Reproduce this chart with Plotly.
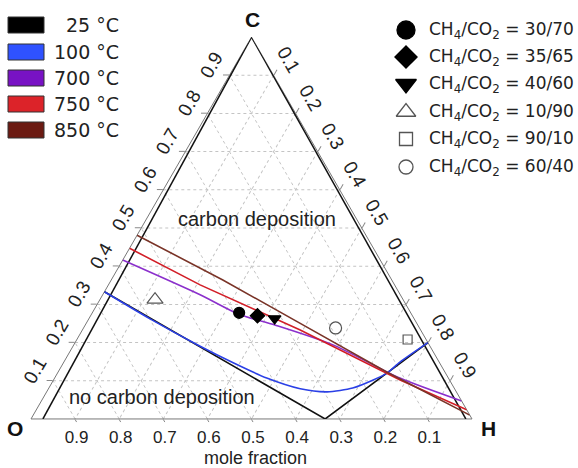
import plotly.graph_objects as go

W, H = 578, 468

# ---- carbon-deposition boundary lines (mole fractions of C and H; O is the remainder)
TEMPS = ["25 °C", "100 °C", "700 °C", "750 °C", "850 °C"]
LINE_COLORS = ["#111111", "#2b40e6", "#8b30cc", "#d21f28", "#7a3428"]
BOX_COLORS = ["#000000", "#2f52ff", "#7812c4", "#dc2329", "#6b1a12"]
LINE_SHAPES = ["linear", "spline", "spline", "linear", "linear"]

c_25 = [0.333, 0.0, 0.2]
h_25 = [0.0, 0.667, 0.8]

c_100 = [0.333, 0.262, 0.191, 0.147, 0.107, 0.079, 0.071, 0.081, 0.102, 0.120, 0.149, 0.2]
h_100 = [0.0, 0.139, 0.287, 0.385, 0.481, 0.571, 0.636, 0.689, 0.725, 0.747, 0.762, 0.8]

c_700 = [0.416, 0.325, 0.275, 0.246, 0.194, 0.107, 0.047]
h_700 = [0.0, 0.221, 0.332, 0.430, 0.588, 0.783, 0.953]

c_750 = [0.447, 0.351, 0.233, 0.102, 0.024]
h_750 = [0.0, 0.208, 0.494, 0.786, 0.976]

c_850 = [0.481, 0.364, 0.251, 0.123, 0.010]
h_850 = [0.0, 0.253, 0.484, 0.745, 0.990]

BOUNDARIES = [(c_25, h_25), (c_100, h_100), (c_700, h_700), (c_750, h_750), (c_850, h_850)]

# ---- feed compositions (C, O, H mole fractions)
FEEDS = ["CH<sub>4</sub>/CO<sub>2</sub> = 30/70", "CH<sub>4</sub>/CO<sub>2</sub> = 35/65",
         "CH<sub>4</sub>/CO<sub>2</sub> = 40/60", "CH<sub>4</sub>/CO<sub>2</sub> = 10/90",
         "CH<sub>4</sub>/CO<sub>2</sub> = 90/10", "CH<sub>4</sub>/CO<sub>2</sub> = 60/40"]
feed_c = [0.278, 0.270, 0.263, 0.3125, 0.208, 0.238]
feed_o = [0.389, 0.351, 0.316, 0.5625, 0.042, 0.190]
feed_h = [0.333, 0.378, 0.421, 0.125, 0.750, 0.571]
FEED_SYMBOLS = ["circle", "diamond", "triangle-down", "triangle-up-open", "square-open", "circle-open"]
FEED_SIZES = [11, 11, 11, 14, 9, 12]
LEGEND_SIZES = [18, 17, 18, 17, 13, 14]
FEED_COLORS = ["#000000", "#000000", "#000000", "#555555", "#555555", "#555555"]

TICKS = [0.1, 0.2, 0.3, 0.4, 0.5, 0.6, 0.7, 0.8, 0.9]
TICK_TEXT = ["0.1", "0.2", "0.3", "0.4", "0.5", "0.6", "0.7", "0.8", "0.9"]

FONT = "Liberation Sans, Arial, sans-serif"
LFONT = "DejaVu Sans, Verdana, sans-serif"

fig = go.Figure()

# inner frame lines running into the C vertex
fig.add_trace(go.Scatterternary(a=[0, 1], b=[0.973, 0], c=[0.027, 0], mode="lines",
                                line=dict(color="#111111", width=1.5), hoverinfo="skip"))
fig.add_trace(go.Scatterternary(a=[1, 0], b=[0, 0.014], c=[0, 0.986], mode="lines",
                                line=dict(color="#111111", width=1.5), hoverinfo="skip"))

for (cs, hs), col, name, shp in zip(BOUNDARIES, LINE_COLORS, TEMPS, LINE_SHAPES):
    os_ = [round(1 - c - h, 4) for c, h in zip(cs, hs)]
    line = dict(color=col, width=1.6, shape=shp)
    if shp == "spline":
        line["smoothing"] = 0.7
    fig.add_trace(go.Scatterternary(a=cs, b=os_, c=hs, mode="lines", name=name, line=line))

for i in range(len(FEEDS)):
    fig.add_trace(go.Scatterternary(a=[feed_c[i]], b=[feed_o[i]], c=[feed_h[i]], mode="markers",
                                    name=FEEDS[i],
                                    marker=dict(symbol=FEED_SYMBOLS[i], size=FEED_SIZES[i],
                                                color=FEED_COLORS[i],
                                                line=dict(color=FEED_COLORS[i], width=1.2))))

# legend glyphs on a hidden pixel-space axis
LEG_X = 406
LEG_Y = [30, 57, 84, 112, 139, 167]
for i in range(len(FEEDS)):
    fig.add_trace(go.Scatter(x=[LEG_X], y=[LEG_Y[i]], mode="markers", xaxis="x", yaxis="y",
                             marker=dict(symbol=FEED_SYMBOLS[i], size=LEGEND_SIZES[i],
                                         color=FEED_COLORS[i],
                                         line=dict(color=FEED_COLORS[i], width=1.3)),
                             hoverinfo="skip"))

shapes = []
annotations = []
BOX_Y = [25, 52, 78, 104, 130]
for i, t in enumerate(TEMPS):
    shapes.append(dict(type="rect", xref="x", yref="y", x0=8, x1=44, y0=BOX_Y[i] - 8, y1=BOX_Y[i] + 8,
                       fillcolor=BOX_COLORS[i], line=dict(color="#333333", width=1)))
    annotations.append(dict(xref="x", yref="y", x=121, y=BOX_Y[i], text=t, showarrow=False,
                            xanchor="right", yanchor="middle",
                            font=dict(family=LFONT, size=19, color="#222222")))
for i, f in enumerate(FEEDS):
    annotations.append(dict(xref="x", yref="y", x=427, y=LEG_Y[i], text=f, showarrow=False,
                            xanchor="left", yanchor="middle",
                            font=dict(family=LFONT, size=17, color="#222222")))

for txt, x, y in [("C", 252, 19), ("O", 15, 428), ("H", 488, 428)]:
    annotations.append(dict(xref="x", yref="y", x=x, y=y, text="<b>%s</b>" % txt, showarrow=False,
                            xanchor="center", yanchor="middle",
                            font=dict(family=FONT, size=21, color="#111111")))
annotations.append(dict(xref="x", yref="y", x=176, y=219, text="carbon deposition", showarrow=False,
                        xanchor="left", yanchor="middle", font=dict(family=FONT, size=20, color="#222222")))
annotations.append(dict(xref="x", yref="y", x=67, y=397, text="no carbon deposition", showarrow=False,
                        xanchor="left", yanchor="middle", font=dict(family=FONT, size=20, color="#222222")))
annotations.append(dict(xref="x", yref="y", x=255, y=458, text="mole fraction", showarrow=False,
                        xanchor="center", yanchor="middle", font=dict(family=FONT, size=18, color="#222222")))

axis_common = dict(tickvals=TICKS, ticktext=TICK_TEXT, ticks="outside", ticklen=6, tickwidth=1,
                   tickcolor="#888888", showline=True, linecolor="#777777", linewidth=1,
                   showgrid=True, gridcolor="#c4c4c4", gridwidth=1, griddash="dot",
                   layer="below traces", tickfont=dict(family=FONT, size=19, color="#222222"),
                   title=dict(text=""))

fig.update_layout(
    width=W, height=H, margin=dict(l=0, r=0, t=0, b=0),
    paper_bgcolor="white", plot_bgcolor="rgba(0,0,0,0)", showlegend=False,
    ternary=dict(
        sum=1, bgcolor="white",
        domain=dict(x=[31 / W, 472 / W], y=[49 / H, 431 / H]),
        aaxis=dict(axis_common, tickangle=-60),
        baxis=dict(axis_common, tickangle=0, ticklen=3,
                   tickfont=dict(family=FONT, size=17, color="#222222")),
        caxis=dict(axis_common, tickangle=60),
    ),
    xaxis=dict(range=[0, W], domain=[0, 1], visible=False, fixedrange=True),
    yaxis=dict(range=[H, 0], domain=[0, 1], visible=False, fixedrange=True),
    shapes=shapes, annotations=annotations,
)

fig.write_html("out.html")
